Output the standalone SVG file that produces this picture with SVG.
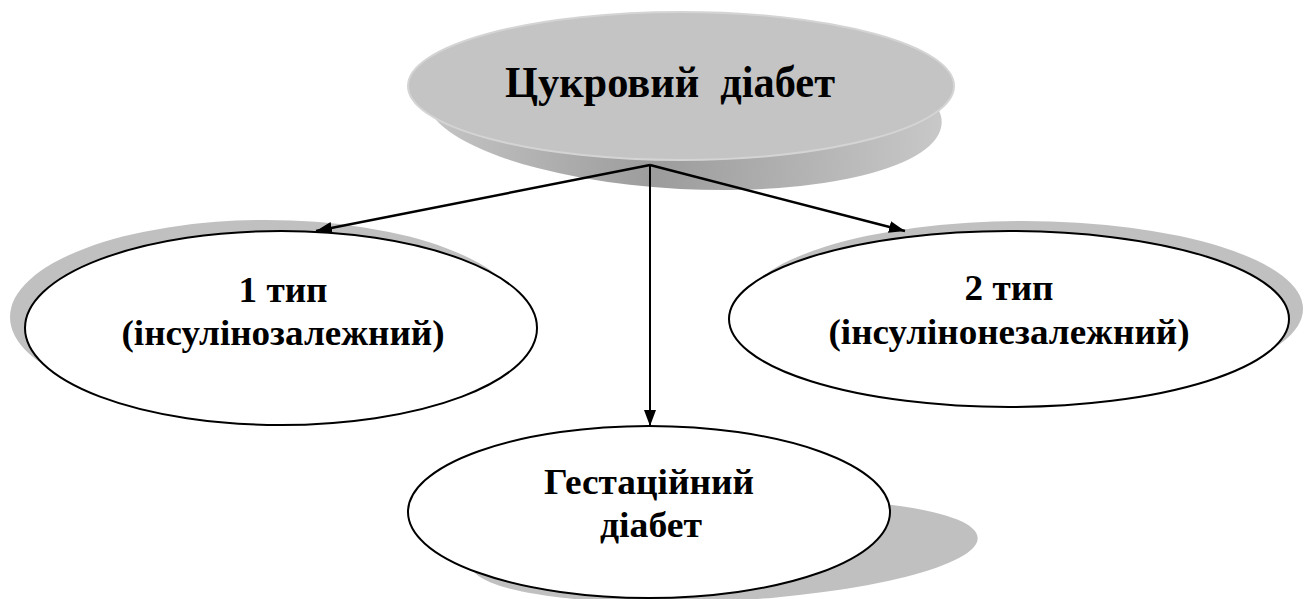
<svg xmlns="http://www.w3.org/2000/svg" width="1312" height="599" viewBox="0 0 1312 599">
<defs>
<linearGradient id="rim" x1="0" y1="0" x2="1" y2="0">
<stop offset="0" stop-color="#c6c6c6"/>
<stop offset="0.45" stop-color="#9c9c9c"/>
<stop offset="1" stop-color="#c8c8c8"/>
</linearGradient>
<marker id="ahb" viewBox="0 0 16 12" refX="16" refY="6" markerWidth="16" markerHeight="12" markerUnits="userSpaceOnUse" orient="auto">
<path d="M0,0 L16,6 L0,12 z" fill="#000"/>
</marker>
</defs>
<style>
.t{font-family:"Liberation Serif","Times New Roman","DejaVu Serif",serif;font-weight:bold;fill:#000;text-anchor:middle;white-space:pre}
.node{fill:#fff;stroke:#000;stroke-width:2}
.sh{fill:#c0c0c0}
.conn{stroke:#000;stroke-width:2.5;fill:none}
</style>
<rect width="1312" height="599" fill="#fff"/>
<g id="root">
<ellipse cx="684" cy="110" rx="258" ry="79" transform="rotate(3 684 110)" fill="url(#rim)"/>
<ellipse cx="681" cy="86" rx="273" ry="74" fill="#c4c4c4" stroke="#d4d4d4" stroke-width="2"/>
<text class="t" x="670" y="97" font-size="44" font-family="Liberation Serif, serif" textLength="330" lengthAdjust="spacingAndGlyphs" xml:space="preserve">Цукровий  діабет</text>
</g>
<g id="type1">
<ellipse class="sh" cx="266" cy="317" rx="256" ry="97"/>
<ellipse class="node" cx="281" cy="328" rx="256" ry="97"/>
<text class="t" x="283" y="302" font-size="35" font-family="Liberation Serif, serif" textLength="89" lengthAdjust="spacingAndGlyphs">1 тип</text>
<text class="t" x="283" y="345" font-size="35" font-family="Liberation Serif, serif" textLength="323" lengthAdjust="spacingAndGlyphs">(інсулінозалежний)</text>
</g>
<g id="type2">
<ellipse class="sh" cx="1023" cy="309" rx="280" ry="88"/>
<ellipse class="node" cx="1009" cy="319" rx="280" ry="88"/>
<text class="t" x="1009" y="300" font-size="35" font-family="Liberation Serif, serif" textLength="89" lengthAdjust="spacingAndGlyphs">2 тип</text>
<text class="t" x="1009" y="344" font-size="35" font-family="Liberation Serif, serif" textLength="361" lengthAdjust="spacingAndGlyphs">(інсулінонезалежний)</text>
</g>
<g id="gest">
<ellipse class="sh" cx="724" cy="551" rx="254" ry="50" transform="rotate(-3 724 551)"/>
<ellipse class="node" cx="649" cy="512" rx="241" ry="86"/>
<text class="t" x="649" y="494" font-size="35" font-family="Liberation Serif, serif" textLength="210" lengthAdjust="spacingAndGlyphs">Гестаційний</text>
<text class="t" x="651" y="537" font-size="35" font-family="Liberation Serif, serif" textLength="102" lengthAdjust="spacingAndGlyphs">діабет</text>
</g>
<g id="connectors">
<line class="conn" x1="650" y1="165" x2="316" y2="231" marker-end="url(#ahb)"/>
<line class="conn" x1="650" y1="165" x2="905" y2="231" marker-end="url(#ahb)"/>
<line x1="650" y1="165" x2="650" y2="426" stroke="#000" stroke-width="2" marker-end="url(#ahb)"/>
</g>
</svg>
